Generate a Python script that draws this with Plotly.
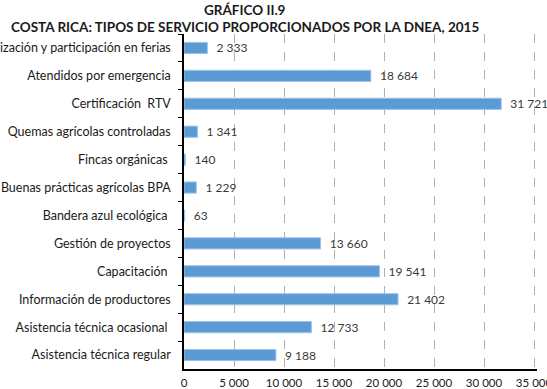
import plotly.graph_objects as go

categories = [
    "Organización y participación en ferias",
    "Atendidos por emergencia",
    "Certificación\u00a0\u00a0RTV",
    "Quemas agrícolas controladas",
    "Fincas orgánicas\u00a0",
    "Buenas prácticas agrícolas BPA",
    "Bandera azul ecológica\u00a0",
    "Gestión de proyectos",
    "Capacitación\u00a0",
    "Información de productores",
    "Asistencia técnica ocasional\u00a0",
    "Asistencia técnica regular",
]
values = [2333, 18684, 31721, 1341, 140, 1229, 63, 13660, 19541, 21402, 12733, 9188]
tick_vals = [0, 5000, 10000, 15000, 20000, 25000, 30000, 35000]
tick_text = ["0", "5 000", "10 000", "15 000", "20 000", "25 000", "30 000", "35 000"]


def fmt(v):
    return "\u00a0\u00a0" + f"{v:,}".replace(",", " ")


FONT = "Lato"

fig = go.Figure(
    go.Bar(
        x=values,
        y=categories,
        orientation="h",
        marker=dict(color="#5b9bd5", line=dict(color="#9cc3e8", width=1)),
        text=[fmt(v) for v in values],
        textposition="outside",
        constraintext="none",
        cliponaxis=False,
        textfont=dict(family=FONT, size=12, color="#3a3a3a"),
        width=0.4,
    )
)

fig.update_layout(
    width=547,
    height=389,
    margin=dict(l=184, r=10, t=34, b=20),
    paper_bgcolor="white",
    plot_bgcolor="white",
    showlegend=False,
    font=dict(family=FONT, size=12, color="#1a1a1a"),
)
plot_w = 547 - 184 - 10
plot_h = 389 - 34 - 20
for txt, ypx in [("<b>GRÁFICO II.9</b>", 10), ("<b>COSTA RICA: TIPOS DE SERVICIO PROPORCIONADOS POR LA DNEA, 2015</b>", 27)]:
    fig.add_annotation(
        text=txt,
        x=(245 - 184) / plot_w,
        y=(389 - 20 - ypx) / plot_h,
        xref="paper", yref="paper",
        xanchor="center", yanchor="middle",
        showarrow=False,
        font=dict(family=FONT, size=13.5, color="#1a1a1a"),
    )

fig.update_xaxes(
    range=[0, 35300],
    tickvals=tick_vals,
    ticktext=tick_text,
    showgrid=True,
    gridcolor="#b0b0b0",
    griddash="dash",
    gridwidth=1,
    showline=True,
    linecolor="black",
    linewidth=1.5,
    ticks="",
    zeroline=False,
    tickfont=dict(family=FONT, size=11.5, color="#1a1a1a"),
    automargin=False,
    ticklabelstandoff=2,
    ticklabeloverflow="allow",
    fixedrange=True,
)
fig.update_yaxes(
    autorange="reversed",
    showline=True,
    linecolor="black",
    linewidth=1.5,
    ticks="outside",
    tickson="boundaries",
    ticklen=4,
    tickcolor="black",
    showgrid=False,
    tickfont=dict(family=FONT, size=12.5, color="#1a1a1a"),
    automargin=False,
    ticklabelstandoff=9,
    ticklabeloverflow="allow",
)

fig.write_html("out.html")
